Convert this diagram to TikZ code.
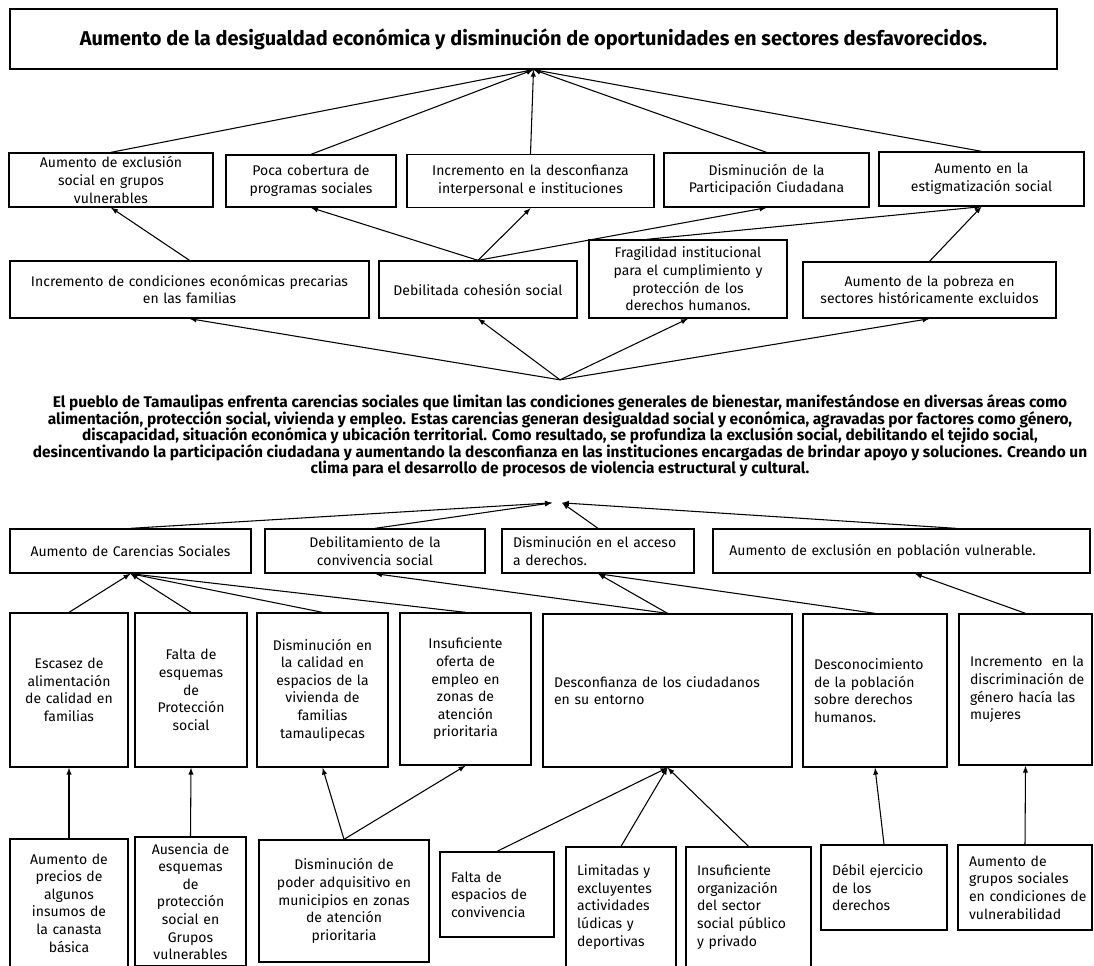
\documentclass[tikz,border=0pt]{standalone}
\usepackage{fontspec}
\setmainfont{Fira Sans}

\begin{document}
\begin{tikzpicture}[x=0.75pt, y=-0.75pt, >=latex, line width=0.8pt,
    cell/.style 2 args={draw, line width=1pt, align=center, inner xsep=6pt, inner ysep=0pt,
        text width=(#1-16)*0.75pt, minimum height=#2*0.75pt, font=\fontsize{10.5}{13.2}\selectfont},
    lcell/.style 2 args={cell={#1}{#2}, align=left, inner xsep=8.25pt, text width=(#1-22)*0.75pt}]
        \useasboundingbox (0,0) rectangle (1094,965);

        \node[draw, line width=1pt, minimum width=1047*0.75pt, minimum height=60*0.75pt,
            font=\bfseries\fontsize{15}{18}\selectfont] (goal) at (533.5,39)
            {Aumento de la desigualdad económica y disminución de oportunidades en sectores desfavorecidos.};

        \node[cell={204}{54}] (a1) at (111,180) {Aumento de exclusión\\social en grupos\\vulnerables};
        \node[cell={170}{52}] (a2) at (311,181) {Poca cobertura de\\programas sociales};
        \node[cell={247}{53}] (a3) at (530.5,181) {Incremento en la desconfianza\\interpersonal e instituciones};
        \node[cell={205}{54}] (a4) at (766.5,180) {Disminución de la\\Participación Ciudadana};
        \node[cell={205}{54}] (a5) at (981.5,179) {Aumento en la\\estigmatización social};

        \node[cell={359}{57}] (b1) at (189.5,289.5) {Incremento de condiciones económicas precarias\\en las familias};
        \node[cell={198}{57}] (b2) at (478,289.5) {Debilitada cohesión social};
        \node[cell={198}{78}] (b3) at (688,279) {Fragilidad institucional\\para el cumplimiento y\\protección de los\\derechos humanos.};
        \node[cell={253}{56}] (b4) at (929.5,290) {Aumento de la pobreza en\\sectores históricamente excluidos};

        \node[align=center, inner ysep=11pt, font=\bfseries\fontsize{11.6}{12.3}\selectfont] (para) at (560,436)
            {El pueblo de Tamaulipas enfrenta carencias sociales que limitan las condiciones generales de bienestar, manifestándose en diversas áreas como\\
             alimentación, protección social, vivienda y empleo. Estas carencias generan desigualdad social y económica, agravadas por factores como género,\\
             discapacidad, situación económica y ubicación territorial. Como resultado, se profundiza la exclusión social, debilitando el tejido social,\\
             desincentivando la participación ciudadana y aumentando la desconfianza en las instituciones encargadas de brindar apoyo y soluciones. Creando un\\
             clima para el desarrollo de procesos de violencia estructural y cultural.};

        \node[cell={241}{44}] (c1) at (130.5,551) {Aumento de Carencias Sociales};
        \node[cell={220}{44}] (c2) at (375,551) {Debilitamiento de la\\convivencia social};
        \node[lcell={192}{44}] (c3) at (598,551) {Disminución en el acceso\\a derechos.};
        \node[lcell={377}{44}] (c4) at (901.5,551) {\hspace*{4pt}Aumento de exclusión en población vulnerable.};

        \node[cell={118}{154}] (d1) at (69,690) {Escasez de\\alimentación\\de calidad en\\familias};
        \node[cell={112}{154}] (d2) at (191,690) {Falta de\\esquemas\\de\\Protección\\social};
        \node[cell={131}{154}] (d3) at (322.5,690) {Disminución en\\la calidad en\\espacios de la\\vivienda de\\familias\\tamaulipecas};
        \node[cell={131}{152}] (d4) at (465.5,689) {Insuficiente\\oferta de\\empleo en\\zonas de\\atención\\prioritaria};
        \node[lcell={249}{153}] (d5) at (667.5,690.5) {Desconfianza de los ciudadanos\\en su entorno};
        \node[lcell={144}{153}] (d6) at (875,690.5) {Desconocimiento\\de la población\\sobre derechos\\humanos.};
        \node[lcell={133}{151}] (d7) at (1025.5,689.5) {\mbox{Incremento\ \ en la}\\\mbox{discriminación de}\\\mbox{género hacía las}\\mujeres};

        \node[cell={118}{128}] (e1) at (69,903) {Aumento de\\precios de\\algunos\\insumos de\\la canasta\\básica};
        \node[cell={111}{129}] (e2) at (190.5,901.5) {Ausencia de\\esquemas\\de\\protección\\social en\\Grupos\\vulnerables};
        \node[cell={170}{122}] (e3) at (344,901) {Disminución de\\poder adquisitivo en\\municipios en zonas\\de atención\\prioritaria};
        \node[lcell={114}{85}] (e4) at (497,894.5) {Falta de\\espacios de\\convivencia};
        \node[lcell={110}{120}] (e5) at (621,907) {Limitadas y\\excluyentes\\actividades\\lúdicas y\\deportivas};
        \node[lcell={125}{120}] (e6) at (748.5,907) {Insuficiente\\organización\\del sector\\social público\\y privado};
        \node[lcell={126}{85}] (e7) at (884,887.5) {Débil ejercicio\\de los\\derechos};
        \node[lcell={134}{85}] (e8) at (1025,887.5) {Aumento de\\grupos sociales\\\mbox{en condiciones de}\\vulnerabilidad};

        \draw[->] (a1.north) to (goal.south);
        \draw[->] (a2.north) to (goal.south);
        \draw[->] (a3.north) to (goal.south);
        \draw[->] (a4.north) to (goal.south);
        \draw[->] (a5.north) to (goal.south);

        \draw[->] (b1.north) to (a1.south);
        \draw[->] (b2.north) to (a2.south);
        \draw[->] (b2.north) to (a3.south);
        \draw[->] (b2.north) to (a4.south);
        \draw[->] ([xshift=-31pt]b3.north) to (a5.south);
        \draw[->] (b4.north) to (a5.south);

        \draw[->] (para.north) to (b1.south);
        \draw[->] (para.north) to (b2.south);
        \draw[->] (para.north) to (b3.south);
        \draw[->] (para.north) to (b4.south);

        \draw[->] (c1.north) to ([xshift=-6pt,yshift=-8pt]para.south);
        \draw[->] (c2.north) to ([xshift=-6pt,yshift=-8pt]para.south);
        \draw[->] (c3.north) to ([xshift=1.5pt,yshift=-8pt]para.south);
        \draw[->] ([xshift=41pt]c4.north) to ([xshift=1.5pt,yshift=-8pt]para.south);

        \draw[->] (d1.north) to (c1.south);
        \draw[->] (d2.north) to (c1.south);
        \draw[->] (d3.north) to (c1.south);
        \draw[->] (d4.north) to (c1.south);
        \draw[->] (d5.north) to (c2.south);
        \draw[->] (d5.north) to (c3.south);
        \draw[->] (d6.north) to (c3.south);
        \draw[->] (d7.north) to ([xshift=10pt]c4.south);

        \draw[->] (e1.north) to (d1.south);
        \draw[->] (e2.north) to (d2.south);
        \draw[->] (e3.north) to (d3.south);
        \draw[->] (e3.north) to (d4.south);
        \draw[->] (e4.north) to (d5.south);
        \draw[->] (e5.north) to (d5.south);
        \draw[->] (e6.north) to (d5.south);
        \draw[->] (e7.north) to (d6.south);
        \draw[->] (e8.north) to (d7.south);
\end{tikzpicture}
\end{document}
